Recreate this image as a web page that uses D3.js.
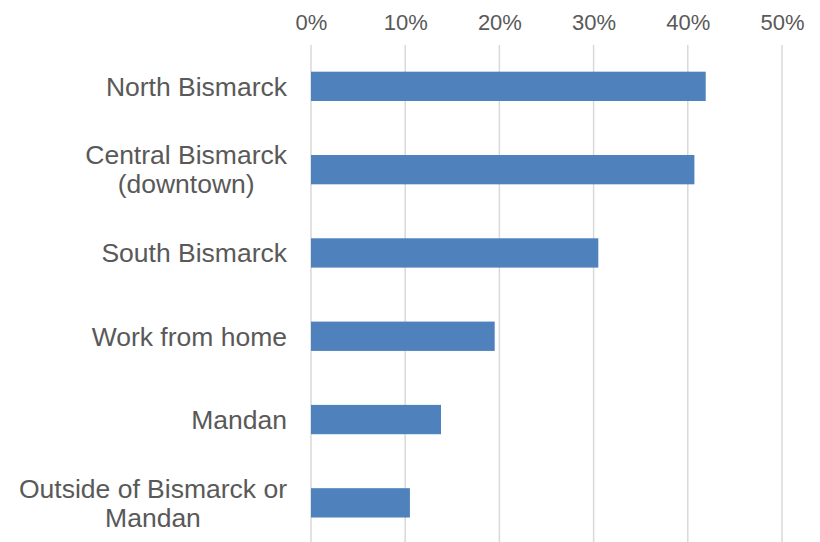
<!DOCTYPE html>
<html>
<head>
<meta charset="utf-8">
<script src="https://cdn.jsdelivr.net/npm/d3@7"></script>
<style>
  body { margin: 0; background: #fff; }
  svg text { font-family: "Liberation Sans", Arial, sans-serif; fill: #595959; }
</style>
</head>
<body>
<div class="chart"></div>
<script>
// data
var categories = ["North Bismarck", "Central Bismarck\n(downtown)", "South Bismarck",
  "Work from home", "Mandan", "Outside of Bismarck or\nMandan"];
var shares = [0.419, 0.407, 0.305, 0.195, 0.138, 0.105];
var tickValues = [0, 0.1, 0.2, 0.3, 0.4, 0.5];

var svgWidth = 820, svgHeight = 542;
var svg = d3.select(".chart").append("svg")
  .attr("width", svgWidth)
  .attr("height", svgHeight);

// scales
var xScale = d3.scaleLinear().domain([0, 0.5]).range([311, 782]);
var yScale = d3.scaleBand().domain(categories)
  .range([44.7, 544.5])
  .paddingInner(0.648)
  .paddingOuter(0.324);

// gridlines
svg.append("g").selectAll("line")
  .data(tickValues)
  .enter().append("line")
  .attr("x1", d => xScale(d)).attr("x2", d => xScale(d))
  .attr("y1", 45).attr("y2", svgHeight)
  .attr("stroke", "#d9d9d9")
  .attr("stroke-width", 1.5);

// top axis
var xAxis = d3.axisTop(xScale).tickValues(tickValues)
  .tickFormat(d3.format(".0%")).tickSize(0).tickPadding(0);
var axisG = svg.append("g").attr("transform", "translate(0,30)").call(xAxis);
axisG.select(".domain").remove();
axisG.selectAll("text").attr("font-size", 22).style("font-family", null).attr("fill", null);

// bars
svg.append("g").selectAll("rect")
  .data(shares)
  .enter().append("rect")
  .attr("x", xScale(0))
  .attr("y", (d, i) => yScale(categories[i]))
  .attr("width", d => xScale(d) - xScale(0))
  .attr("height", yScale.bandwidth())
  .attr("fill", "#4f81bd");

// category labels, wrapped lines centred, block right aligned
var labelRight = 287, lineH = 29;
categories.forEach(function(c) {
  var lines = c.split("\n");
  var cy = yScale(c) + yScale.bandwidth() / 2;
  var t = svg.append("text")
    .attr("font-size", 26.5)
    .attr("text-anchor", "middle");
  lines.forEach(function(l, j) {
    t.append("tspan")
      .attr("y", cy + (j - (lines.length - 1) / 2) * lineH)
      .attr("dy", "0.35em")
      .text(l);
  });
  var maxW = d3.max(t.selectAll("tspan").nodes(), n => n.getComputedTextLength());
  t.selectAll("tspan").attr("x", labelRight - maxW / 2);
});
</script>
</body>
</html>
